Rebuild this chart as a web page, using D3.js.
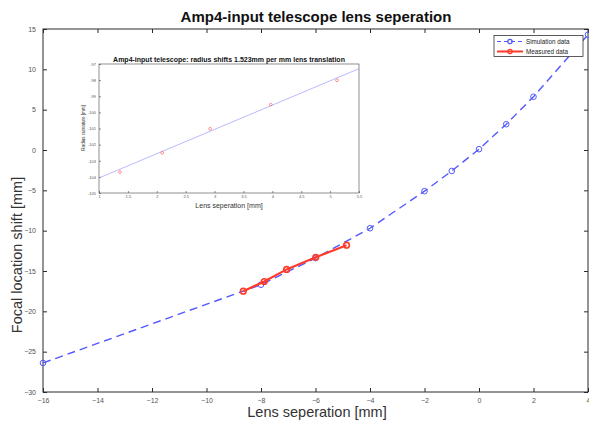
<!DOCTYPE html>
<html><head><meta charset="utf-8">
<script src="https://cdn.jsdelivr.net/npm/d3@7/dist/d3.min.js"></script>
<style>html,body{margin:0;padding:0;background:#fff;}svg{display:block;font-family:"Liberation Sans",Arial,sans-serif;}</style>
</head><body>
<svg id="c" width="589" height="424"></svg>
<script>
// Main chart data
const simX = [-16, -8, -6, -4, -2, -1, 0, 1, 2, 4];
const simY = [-26.4, -16.7, -13.4, -9.7, -5.1, -2.6, 0.1, 3.2, 6.6, 14.3];
const measX = [-8.65, -7.88, -7.06, -5.99, -4.86];
const measY = [-17.5, -16.3, -14.8, -13.3, -11.8];
const xTicks = [-16, -14, -12, -10, -8, -6, -4, -2, 0, 2, 4];
const yTicks = [15, 10, 5, 0, -5, -10, -15, -20, -25, -30];
const legendLabels = ["Simulation data", "Measured data"];
// Inset data
const insetX = [1.363, 2.094, 2.924, 3.972, 5.119];
const insetY = [-103.70, -102.51, -101.02, -99.52, -98.01];
const fitX = [1, 5.5];
const fitY = [-104.07, -97.29];
const insetXTicks = [1, 1.5, 2, 2.5, 3, 3.5, 4, 4.5, 5, 5.5];
const insetYTicks = [-97, -98, -99, -100, -101, -102, -103, -104, -105];

const BLUE = "#5158ff", RED = "#ff3a2a", AX = "#2b2b2b", TL = "#555";
const svg = d3.select("#c");

const x = d3.scaleLinear().domain([-16, 4]).range([43, 588]);
const y = d3.scaleLinear().domain([-30, 15]).range([392, 29]);

// frame
const g = svg.append("g");
g.append("rect").attr("x", x(-16)).attr("y", y(15)).attr("width", x(4) - x(-16)).attr("height", y(-30) - y(15))
  .attr("fill", "none").attr("stroke", AX).attr("stroke-width", 1);

const xb = g.append("g").attr("transform", `translate(0,${y(-30)})`)
  .call(d3.axisBottom(x).tickValues(xTicks).tickSizeInner(-4).tickSizeOuter(0).tickPadding(6).tickFormat(d3.format("d")));
const xt = g.append("g").attr("transform", `translate(0,${y(15)})`)
  .call(d3.axisTop(x).tickValues(xTicks).tickSizeInner(-4).tickSizeOuter(0).tickFormat(""));
const yl = g.append("g").attr("transform", `translate(${x(-16)},0)`)
  .call(d3.axisLeft(y).tickValues(yTicks).tickSizeInner(-4).tickSizeOuter(0).tickPadding(7).tickFormat(d3.format("d")));
const yr = g.append("g").attr("transform", `translate(${x(4)},0)`)
  .call(d3.axisRight(y).tickValues(yTicks).tickSizeInner(-4).tickSizeOuter(0).tickFormat(""));
[xb, xt, yl, yr].forEach(a => {
  a.select(".domain").remove();
  a.selectAll("line").attr("stroke", AX);
  a.selectAll("text").attr("fill", TL).style("font-size", "7px");
});

// simulation line
const sim = simX.map((v, i) => [v, simY[i]]);
const meas = measX.map((v, i) => [v, measY[i]]);
const line = d3.line().x(d => x(d[0])).y(d => y(d[1]));
svg.append("path").datum(sim).attr("d", line).attr("fill", "none").attr("stroke", BLUE)
  .attr("stroke-width", 1.4).attr("stroke-dasharray", "8,5");
svg.selectAll(".sm").data(sim).enter().append("circle")
  .attr("cx", d => x(d[0])).attr("cy", d => y(d[1])).attr("r", 2.8)
  .attr("fill", "none").attr("stroke", BLUE).attr("stroke-width", 1);
svg.append("path").datum(meas).attr("d", line).attr("fill", "none").attr("stroke", RED).attr("stroke-width", 2.2);
svg.selectAll(".mm").data(meas).enter().append("circle")
  .attr("cx", d => x(d[0])).attr("cy", d => y(d[1])).attr("r", 2.8)
  .attr("fill", "none").attr("stroke", RED).attr("stroke-width", 1.6);

// titles
svg.append("text").attr("x", 316).attr("y", 22).attr("text-anchor", "middle")
  .style("font-size", "15px").style("font-weight", "bold").attr("fill", "#111")
  .text("Amp4-input telescope lens seperation");
svg.append("text").attr("x", 317).attr("y", 417).attr("text-anchor", "middle")
  .style("font-size", "14.5px").attr("fill", "#333").text("Lens seperation [mm]");
svg.append("text").attr("transform", "translate(22,255) rotate(-90)").attr("text-anchor", "middle")
  .style("font-size", "14.5px").attr("fill", "#333").text("Focal location shift [mm]");

// legend
const lg = svg.append("g");
lg.append("rect").attr("x", 494).attr("y", 35.5).attr("width", 89).attr("height", 21)
  .attr("fill", "#fff").attr("stroke", "#333").attr("stroke-width", 0.8);
legendLabels.forEach((t, i) => {
  const yy = 41.5 + i * 10;
  const col = i === 0 ? BLUE : RED;
  lg.append("line").attr("x1", 497).attr("x2", 523).attr("y1", yy).attr("y2", yy)
    .attr("stroke", col).attr("stroke-width", i === 0 ? 1 : 2).attr("stroke-dasharray", i === 0 ? "4,3" : null);
  lg.append("circle").attr("cx", 510).attr("cy", yy).attr("r", 2.2).attr("fill", "none").attr("stroke", col).attr("stroke-width", 1.2);
  lg.append("text").attr("x", 526).attr("y", yy + 2).style("font-size", "6.3px").attr("fill", "#222").text(t);
});

// inset
const ix = d3.scaleLinear().domain([1, 5.5]).range([99, 359]);
const iy = d3.scaleLinear().domain([-105, -97]).range([193, 64]);
const ig = svg.append("g");
ig.append("rect").attr("x", 99).attr("y", 64).attr("width", 260).attr("height", 129)
  .attr("fill", "#fff").attr("stroke", "#444").attr("stroke-width", 0.6);
const ixa = ig.append("g").attr("transform", `translate(0,193)`)
  .call(d3.axisBottom(ix).tickValues(insetXTicks).tickSizeInner(-2).tickSizeOuter(0).tickPadding(2.5).tickFormat(d => String(d)));
const iya = ig.append("g").attr("transform", `translate(99,0)`)
  .call(d3.axisLeft(iy).tickValues(insetYTicks).tickSizeInner(-2).tickSizeOuter(0).tickPadding(3).tickFormat(d => String(d)));
[ixa, iya].forEach(a => {
  a.select(".domain").remove();
  a.selectAll("line").attr("stroke", "#444").attr("stroke-width", 0.6);
  a.selectAll("text").attr("fill", "#555").style("font-size", "4px");
});
ig.append("path").datum(fitX.map((v, i) => [v, fitY[i]]))
  .attr("d", d3.line().x(d => ix(d[0])).y(d => iy(d[1])))
  .attr("fill", "none").attr("stroke", "#8c8cff").attr("stroke-width", 0.6);
ig.selectAll(".ip").data(insetX.map((v, i) => [v, insetY[i]])).enter().append("circle")
  .attr("cx", d => ix(d[0])).attr("cy", d => iy(d[1])).attr("r", 1.4)
  .attr("fill", "none").attr("stroke", "#ff5050").attr("stroke-width", 0.6);
ig.append("text").attr("x", 229).attr("y", 62).attr("text-anchor", "middle")
  .style("font-size", "7px").style("font-weight", "bold").attr("fill", "#111")
  .text("Amp4-input telescope: radius shifts 1.523mm per mm lens translation");
ig.append("text").attr("x", 229).attr("y", 207.5).attr("text-anchor", "middle")
  .style("font-size", "7px").attr("fill", "#333").text("Lens seperation [mm]");
ig.append("text").attr("transform", "translate(85,128) rotate(-90)").attr("text-anchor", "middle")
  .style("font-size", "4.5px").attr("fill", "#333").text("Radius curvature [mm]");
</script>
</body></html>
